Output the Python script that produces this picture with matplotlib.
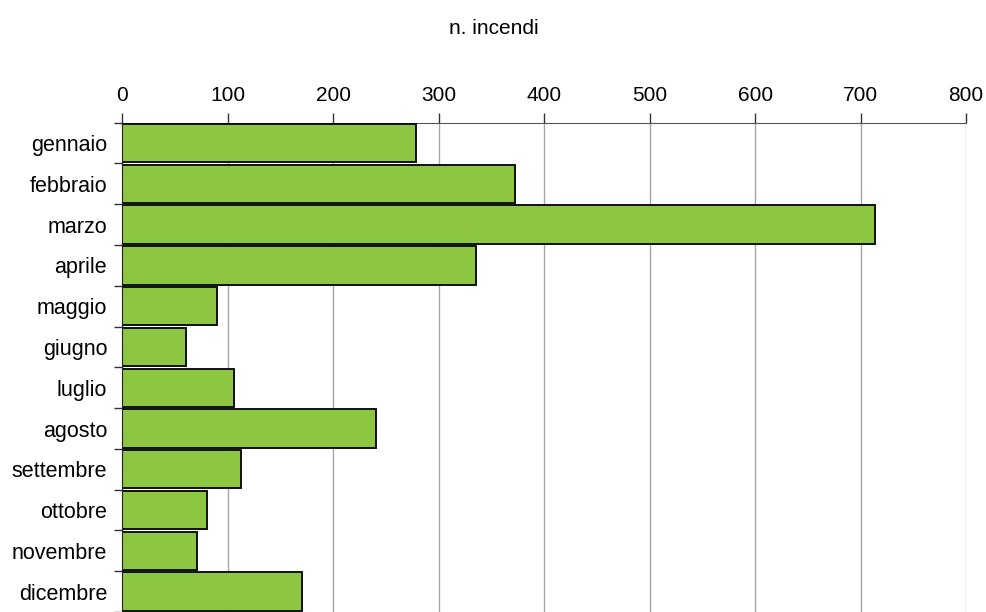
import matplotlib
matplotlib.use("Agg")
import matplotlib.pyplot as plt
import numpy as np
from matplotlib.ticker import FixedLocator

plt.rcParams["font.family"] = ["Liberation Sans", "DejaVu Sans"]

months = ["gennaio", "febbraio", "marzo", "aprile", "maggio", "giugno",
          "luglio", "agosto", "settembre", "ottobre", "novembre", "dicembre"]
fires = [278, 372, 714, 335, 90, 60, 106, 240, 112, 80, 71, 170]
x_ticks = [0, 100, 200, 300, 400, 500, 600, 700, 800]

fig = plt.figure(figsize=(9.87, 6.12), dpi=100)
ax = fig.add_axes([122.5 / 987, 0.0, (966 - 122.5) / 987, 1 - 122.7 / 612])

y = np.arange(len(months))
ax.barh(y, fires, height=0.94, color="#8DC641", edgecolor="#111111",
        linewidth=1.4, zorder=3)

ax.set_xlim(0, 800)
ax.set_ylim(len(months) - 0.5, -0.5)

ax.xaxis.tick_top()
ax.set_xticks(x_ticks)
ax.tick_params(axis="x", which="major", direction="out", length=7,
               width=1, color="#333333", labelsize=15, pad=6)
ax.grid(axis="x", color="#a6a6a6", linewidth=1, zorder=0)

ax.set_yticks(y)
ax.set_yticklabels(months)
ax.yaxis.set_minor_locator(FixedLocator(np.arange(-0.5, len(months), 1.0)))
ax.tick_params(axis="y", which="major", length=0, labelsize=15.5, pad=11)
ax.tick_params(axis="y", which="minor", direction="out", length=6,
               width=1, color="#333333")

for side in ("right", "bottom"):
    ax.spines[side].set_visible(False)
ax.spines["top"].set_color("#555555")
ax.spines["left"].set_color("#222222")
ax.spines["left"].set_zorder(4)

fig.text(494 / 987, 1 - 28 / 612, "n. incendi", ha="center", va="center",
         fontsize=15)

fig.savefig("out.png", dpi=100)
